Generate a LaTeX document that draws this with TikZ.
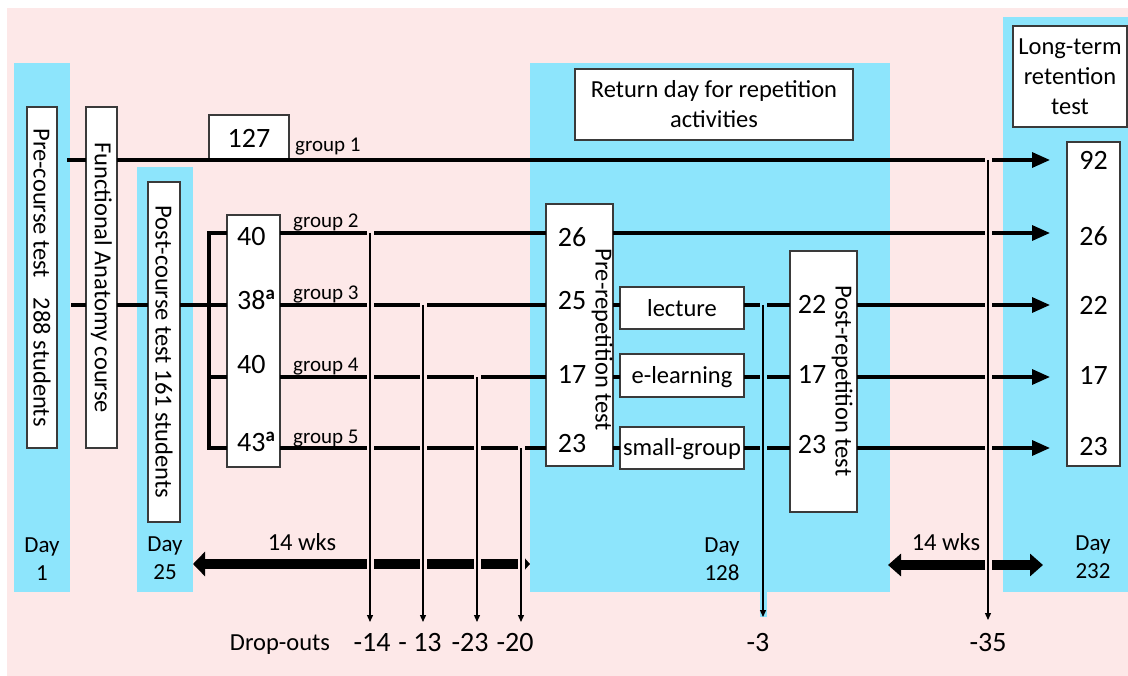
\documentclass[tikz,border=0pt]{standalone}
\usepackage{fontspec}
\setmainfont{Carlito}
\usetikzlibrary{arrows.meta}
\definecolor{bgpink}{HTML}{FDE8E8}
\definecolor{panelblue}{HTML}{8DE5FC}
\definecolor{boxline}{HTML}{3A3A3A}
\newcommand\supmark{\raisebox{10pt}{\fontsize{19}{19}\selectfont\bfseries a}}
\tikzset{
  panel/.style={fill=panelblue},
  box/.style={draw=boxline, fill=white, line width=1.1pt, inner sep=0pt, outer sep=0pt},
  flow/.style={line width=3.3pt, draw=black},
  tipflow/.style={flow, -{Triangle[length=18pt,width=15pt]}, shorten >=17pt},
  dropline/.style={line width=1.3pt, -{Triangle[length=7pt,width=6pt]}, preaction={draw=#1, line width=7pt, -, shorten <=-2.5pt}},
  wksarrow/.style={line width=10pt, draw=black},
  txt/.style={font=\fontsize{24.5}{30}\selectfont, inner sep=0pt, align=center},
  num/.style={font=\fontsize{28}{30}\selectfont, inner sep=0pt},
  grp/.style={font=\fontsize{21}{24}\selectfont, inner sep=0pt, anchor=base west},
  daytxt/.style={font=\fontsize{23}{28}\selectfont, inner sep=0pt, align=center},
}
\begin{document}
\begin{tikzpicture}[x=1pt,y=-1pt]
\useasboundingbox (0,0) rectangle (1128,676);
\fill[white] (0,0) rectangle (1128,676);
\fill[bgpink] (7,8) rectangle (1128,676);
% panels
\fill[panel] (14,63) rectangle (70,592);
\fill[panel] (137,167) rectangle (193,592);
\fill[panel] (530,63) rectangle (890,592);
\fill[panel] (1003,17) rectangle (1128,592);

% boxes
\node[box, minimum width=30pt, minimum height=341pt] (pre) at (42,277.5) {};
\node[box, minimum width=31pt, minimum height=341pt] (func) at (101.5,277.5) {};
\node[box, minimum width=32pt, minimum height=340pt] (post) at (164,352) {};
\node[box, minimum width=80pt, minimum height=46pt] (b127) at (249,138) {};
\node[box, minimum width=53pt, minimum height=252pt] (gb) at (253.5,341) {};
\node[box, minimum width=278pt, minimum height=71pt] (ret) at (714,104.5) {};
\node[box, minimum width=67pt, minimum height=262pt] (prerep) at (579.5,335) {};
\node[box, minimum width=124pt, minimum height=42pt] (lec) at (682,308) {};
\node[box, minimum width=124pt, minimum height=43pt] (elr) at (682,375.5) {};
\node[box, minimum width=124pt, minimum height=42pt] (sg) at (682,448) {};
\node[box, minimum width=67pt, minimum height=261pt] (postrep) at (823.5,381.5) {};
\node[box, minimum width=114pt, minimum height=101pt] (lt) at (1070,76.5) {};
\node[box, minimum width=53pt, minimum height=324pt] (ltn) at (1093.5,304) {};

% coordinates
\coordinate (g1s) at (67,160);
\coordinate (ms) at (71,305);
\coordinate (bt) at (209,233);
\coordinate (bb) at (209,448);
\coordinate (y2) at (0,233);
\coordinate (y3) at (0,305);
\coordinate (y4) at (0,377);
\coordinate (y5) at (0,448);

% 14 wks arrows
\coordinate (w1a) at (193,564);
\coordinate (w1b) at (530,564);
\coordinate (w2a) at (888,565);
\coordinate (w2b) at (1043,565);
\draw[wksarrow, {Triangle[length=12pt,width=24pt]}-{Triangle[length=6pt,width=13pt]}] (w1a) -- (w1b);
\draw[wksarrow, {Triangle[length=13pt,width=22pt]}-{Triangle[length=13pt,width=22pt]}] (w2a) -- (w2b);

% group 1 and main line
\draw[flow] (g1s) -- (func.west |- g1s);
\draw[tipflow] (func.east |- g1s) -- (ltn.west |- g1s);
\draw[flow] (ms) -- (func.west |- ms);
\draw[flow] (func.east |- ms) -- (post.west |- ms);
\draw[flow] (post.east |- ms) -- (gb.west |- ms);
\draw[flow] (gb.west |- bt) -| (bb) -- (gb.west |- bb);
\draw[flow] (bt |- y4) -- (gb.west |- y4);

% group lines
\foreach \yy in {y2,y3,y4,y5}{
  \draw[flow] (gb.east |- \yy) -- (prerep.west |- \yy);
}
\draw[tipflow] (prerep.east |- y2) -- (ltn.west |- y2);
\draw[flow] (prerep.east |- y3) -- (lec.west |- y3);
\draw[flow] (lec.east |- y3) -- (postrep.west |- y3);
\draw[tipflow] (postrep.east |- y3) -- (ltn.west |- y3);
\draw[flow] (prerep.east |- y4) -- (elr.west |- y4);
\draw[flow] (elr.east |- y4) -- (postrep.west |- y4);
\draw[tipflow] (postrep.east |- y4) -- (ltn.west |- y4);
\draw[flow] (prerep.east |- y5) -- (sg.west |- y5);
\draw[flow] (sg.east |- y5) -- (postrep.west |- y5);
\draw[tipflow] (postrep.east |- y5) -- (ltn.west |- y5);

% drop-out lines
\coordinate (d1) at (370,233);  \coordinate (d1e) at (370,622);
\coordinate (d2) at (423,305);  \coordinate (d2e) at (423,622);
\coordinate (d3) at (477,377);  \coordinate (d3e) at (477,622);
\coordinate (d4) at (521,448);  \coordinate (d4e) at (521,622);
\coordinate (d5) at (763,305);  \coordinate (d5e) at (763,617);
\coordinate (d6) at (988,160);  \coordinate (d6e) at (988,620);
\draw[dropline=bgpink] (d1) -- (d1e);
\draw[dropline=bgpink] (d2) -- (d2e);
\draw[dropline=bgpink] (d3) -- (d3e);
\draw[dropline=bgpink] (d4) -- (d4e);
\draw[dropline=panelblue] (d5) -- (d5e);
\draw[dropline=bgpink] (d6) -- (d6e);

% texts
\node[txt, rotate=-90] (pretxt) at (pre.center) {Pre-course test\hspace{20pt}288 students};
\node[txt, rotate=-90] (functxt) at (func.center) {Functional Anatomy course};
\node[txt, rotate=-90] (posttxt) at (post.center) {Post-course test 161 students};
\node[num] (n127) at (b127.center) {127};
\node[grp] (lg1) at (295,152) {group 1};
\node[grp] (lg2) at (293,228) {group 2};
\node[grp] (lg3) at (293,300) {group 3};
\node[grp] (lg4) at (293,372) {group 4};
\node[grp] (lg5) at (293,443) {group 5};
\node[num, anchor=base west] (gn2) at (237,246) {40};
\node[num, anchor=base west] (gn3) at (237,310) {38\supmark};
\node[num, anchor=base west] (gn4) at (237,374) {40};
\node[num, anchor=base west] (gn5) at (237,452) {43\supmark};

\node[txt] (rettxt) at (ret.center) {Return day for repetition\\activities};
\node[num] (pr2) at (572,237) {26};
\node[num] (pr3) at (572,301) {25};
\node[num] (pr4) at (572,374) {17};
\node[num] (pr5) at (572,444) {23};
\node[txt, rotate=-90] (preptxt) at (602,340) {Pre-repetition test};
\node[txt, anchor=base] (lectxt) at (682,317) {lecture};
\node[txt, anchor=base] (elrtxt) at (682,384) {e-learning};
\node[txt, anchor=base] (sgtxt) at (682,455) {small-group};
\node[num] (po3) at (812,304) {22};
\node[num] (po4) at (812,374) {17};
\node[num] (po5) at (812,445) {23};
\node[txt, rotate=-90] (poptxt) at (842,381) {Post-repetition test};

\node[txt] (lttxt) at (lt.center) {Long-term\\retention\\test};
\node[num] (lt1) at (1093.5,160) {92};
\node[num] (lt2) at (1093.5,236) {26};
\node[num] (lt3) at (1093.5,305) {22};
\node[num] (lt4) at (1093.5,375) {17};
\node[num] (lt5) at (1093.5,447) {23};

\node[daytxt] (day1) at (42,559) {Day\\1};
\node[daytxt] (day25) at (165,558) {Day\\25};
\node[daytxt] (day128) at (722,559) {Day\\128};
\node[daytxt] (day232) at (1093,557) {Day\\232};
\node[txt, anchor=base] (wk1) at (302,550) {14 wks};
\node[txt, anchor=base] (wk2) at (946,550) {14 wks};

\node[txt, anchor=base] (dropt) at (280,650) {Drop-outs};
\node[num, anchor=base] (dr1) at (372,651) {-14};
\node[num, anchor=base] (dr2) at (420,651) {- 13};
\node[num, anchor=base] (dr3) at (470,651) {-23};
\node[num, anchor=base] (dr4) at (515,651) {-20};
\node[num, anchor=base] (dr5) at (758,651) {-3};
\node[num, anchor=base] (dr6) at (988,651) {-35};
\end{tikzpicture}
\end{document}
